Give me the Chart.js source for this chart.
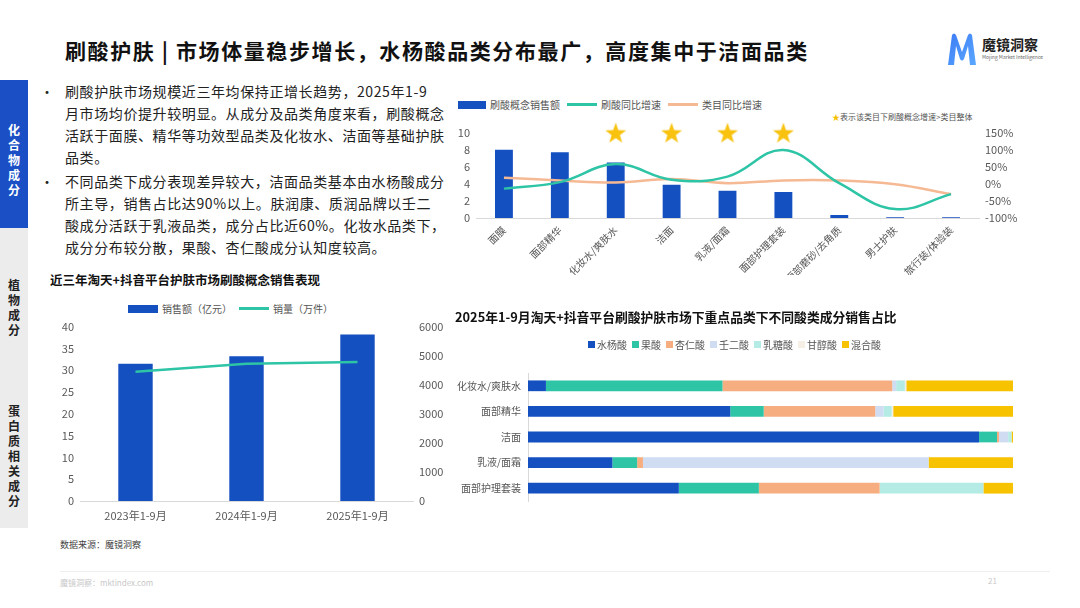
<!DOCTYPE html>
<html>
<head>
<meta charset="utf-8">
<script src="https://cdn.jsdelivr.net/npm/chart.js@4.4.1/dist/chart.umd.min.js"></script>
<style>
  body { margin: 0; width: 1080px; height: 608px; background: #fff; position: relative; overflow: hidden;
         font-family: "Noto Sans CJK SC", "Noto Sans", sans-serif; color: #222; }
  .abs { position: absolute; }
  .title { left: 65px; top: 35px; font-size: 21px; font-weight: 700; color: #111; letter-spacing: 1.6px; white-space: nowrap; }
  .side-blue { left: 0; top: 80px; width: 28px; height: 148px; background: #1a4fc6; }
  .side-gray { left: 0; top: 228px; width: 28px; height: 300px; background: #ececec; }
  .side-txt { width: 28px; text-align: center; font-size: 12px; font-weight: 700; line-height: 15px; }
  .para { left: 65px; font-size: 14px; letter-spacing: 0.6px; color: #222; white-space: nowrap; line-height: 22px; }
  .dot { left: 40px; font-size: 14px; line-height: 22px; }
  .sub { font-size: 12.5px; font-weight: 700; color: #111; white-space: nowrap; }
  .lg { font-size: 10px; color: #555; white-space: nowrap; display: flex; align-items: center; }
  .lg span.box { display: inline-block; margin-right: 4px; }
  .lg span.item { margin-right: 7px; }
  canvas { display: block; }
</style>
</head>
<body>

<div class="abs title">刷酸护肤 | 市场体量稳步增长，水杨酸品类分布最广，高度集中于洁面品类</div>

<!-- logo -->
<svg class="abs" style="left:946px;top:32px" width="32" height="34" viewBox="0 0 32 34">
  <defs>
    <linearGradient id="lg1" x1="0" y1="0" x2="1" y2="1">
      <stop offset="0" stop-color="#3d7cf5"/><stop offset="1" stop-color="#5aa8ff"/>
    </linearGradient>
  </defs>
  <path d="M2 33 L6 3 Q8 0 10 3 L16 20 L22 3 Q24 0 26 3 L30 33 L24 33 L22 14 L18 27 Q16 30 14 27 L10 14 L8 33 Z" fill="url(#lg1)"/>
</svg>
<div class="abs" style="left:982px;top:34px;font-size:14px;font-weight:700;color:#222;">魔镜洞察</div>
<div class="abs" style="left:982px;top:53px;font-size:5px;color:#666;white-space:nowrap;">Mojing Market Intelligence</div>

<!-- sidebar -->
<div class="abs side-blue"></div>
<div class="abs side-gray"></div>
<div class="abs side-txt" style="top:122px;color:#fff;">化<br>合<br>物<br>成<br>分</div>
<div class="abs side-txt" style="top:277px;color:#222;">植<br>物<br>成<br>分</div>
<div class="abs side-txt" style="top:403px;color:#222;">蛋<br>白<br>质<br>相<br>关<br>成<br>分</div>

<!-- bullets -->
<div class="abs dot" style="top:80px;">•</div>
<div class="abs para" style="top:80px;">刷酸护肤市场规模近三年均保持正增长趋势，2025年1-9<br>月市场均价提升较明显。从成分及品类角度来看，刷酸概念<br>活跃于面膜、精华等功效型品类及化妆水、洁面等基础护肤<br>品类。</div>
<div class="abs dot" style="top:170px;">•</div>
<div class="abs para" style="top:170px;">不同品类下成分表现差异较大，洁面品类基本由水杨酸成分<br>所主导，销售占比达90%以上。肤润康、质润品牌以壬二<br>酸成分活跃于乳液品类，成分占比近60%。化妆水品类下，<br>成分分布较分散，果酸、杏仁酸成分认知度较高。</div>

<!-- chart 1 legend -->
<div class="abs lg" style="left:458px;top:97px;">
  <span class="box" style="width:28px;height:8px;background:#1550c0;"></span><span class="item">刷酸概念销售额</span>
  <span class="box" style="width:30px;height:3px;background:#2ec4a6;"></span><span class="item">刷酸同比增速</span>
  <span class="box" style="width:30px;height:3px;background:#f5b994;"></span><span class="item">类目同比增速</span>
</div>
<div class="abs" style="left:832px;top:111px;font-size:8px;color:#555;white-space:nowrap;"><span style="color:#f5c000;">★</span>表示该类目下刷酸概念增速&gt;类目整体</div>
<div class="abs" style="left:440px;top:120px;width:590px;height:155px;"><canvas id="growthChart" width="590" height="155"></canvas></div>

<!-- chart 2 -->
<div class="abs sub" style="left:50px;top:270px;">近三年淘天+抖音平台护肤市场刷酸概念销售表现</div>
<div class="abs lg" style="left:128px;top:301px;">
  <span class="box" style="width:30px;height:8px;background:#1550c0;"></span><span class="item">销售额（亿元）</span>
  <span class="box" style="width:30px;height:3px;background:#2ec4a6;"></span><span class="item">销量（万件）</span>
</div>
<div class="abs" style="left:40px;top:314px;width:420px;height:214px;"><canvas id="salesChart" width="420" height="214"></canvas></div>

<!-- chart 3 -->
<div class="abs sub" style="left:455px;top:307px;font-size:12.8px;">2025年1-9月淘天+抖音平台刷酸护肤市场下重点品类下不同酸类成分销售占比</div>
<div class="abs lg" id="acidLegend" style="left:588px;top:337px;"></div>
<div class="abs" style="left:440px;top:360px;width:590px;height:154px;"><canvas id="acidChart" width="590" height="154"></canvas></div>

<!-- footer -->
<div class="abs" style="left:60px;top:538px;font-size:9px;color:#444;">数据来源：魔镜洞察</div>
<div class="abs" style="left:60px;top:571px;width:990px;height:1px;background:#eeeeee;"></div>
<div class="abs" style="left:60px;top:577px;font-size:8px;color:#c8c8c8;">魔镜洞察：mktindex.com</div>
<div class="abs" style="left:988px;top:575px;font-size:8px;color:#c8c8c8;">21</div>

<script>
// chart 1: category sales and growth
const categoryNames = ["面膜", "面部精华", "化妆水/爽肤水", "洁面", "乳液/面霜", "面部护理套装", "面部磨砂/去角质", "男士护肤", "旅行装/体验装"];
const conceptSales = [8.0, 7.7, 6.5, 3.9, 3.2, 3.05, 0.35, 0.1, 0.1];
const conceptGrowth = [-14, 5, 58, 12, 21, 99, 2, -74, -30];
const categoryGrowth = [18, 10, 4, 14, 2, 10, 10, -1, -30];
const starMarks = [null, null, 10, 10, 10, 10, null, null, null];
const growthTicks = [-100, -50, 0, 50, 100, 150];

// chart 2: three-year sales
const periodLabels = ["2023年1-9月", "2024年1-9月", "2025年1-9月"];
const salesAmount = [31.5, 33.2, 38.2];
const salesVolume = [4450, 4720, 4780];

// chart 3: acid share per key category (%)
const keyCategories = ["化妆水/爽肤水", "面部精华", "洁面", "乳液/面霜", "面部护理套装"];
const acidNames = ["水杨酸", "果酸", "杏仁酸", "壬二酸", "乳糖酸", "甘醇酸", "混合酸"];
const salicylicShare = [3.7, 41.7, 93.0, 17.4, 31.1];
const fruitShare = [36.4, 6.9, 3.7, 5.1, 16.5];
const mandelicShare = [35.0, 23.0, 0.4, 1.2, 24.9];
const azelaicShare = [0.8, 1.7, 1.9, 58.9, 0];
const lactobionicShare = [1.8, 1.7, 0.7, 0, 21.4];
const glycolicShare = [0.3, 0.3, 0, 0, 0];
const mixedShare = [22.0, 24.7, 0.3, 17.4, 6.1];

const color = {
  Blue: "#1550c0",
  Teal: "#2ec4a6",
  Peach: "#f5b994",
  Apricot: "#f6ad80",
  Periwinkle: "#cfdcf2",
  Aqua: "#b4ebe4",
  Cream: "#f6efe5",
  Gold: "#f7c200",
  Tick: "#595959",
  Axis: "#d9d9d9",
};

Chart.defaults.font.family = '"Noto Sans CJK SC", "Noto Sans", sans-serif';
Chart.defaults.animation = false;
Chart.defaults.plugins.legend.display = false;
Chart.defaults.plugins.tooltip.enabled = false;

function makeStar(size, fill) {
  const c = document.createElement("canvas");
  c.width = size;
  c.height = size;
  const g = c.getContext("2d");
  g.fillStyle = fill;
  g.beginPath();
  for (let i = 0; i < 10; i++) {
    const r = i % 2 ? size * 0.2 : size * 0.5;
    const a = -Math.PI / 2 + (i * Math.PI) / 5;
    g.lineTo(size / 2 + r * Math.cos(a), size * 0.55 + r * Math.sin(a));
  }
  g.closePath();
  g.fill();
  return c;
}

function fixWidth(w) { return (s) => { s.width = w; }; }
function fixHeight(h) { return (s) => { s.height = h; }; }
const noGrid = { display: false, drawTicks: false };

new Chart(document.getElementById("growthChart"), {
  data: {
    labels: categoryNames,
    datasets: [
      { type: "line", data: starMarks, yAxisID: "y", showLine: false, clip: false,
        pointStyle: makeStar(22, "#f8c20f"), pointRadius: 11, order: 0 },
      { type: "line", data: conceptGrowth, yAxisID: "y1", borderColor: color.Teal, borderWidth: 2.5,
        tension: 0.4, pointRadius: 0, order: 1 },
      { type: "line", data: categoryGrowth, yAxisID: "y1", borderColor: color.Peach, borderWidth: 2.5,
        tension: 0.4, pointRadius: 0, order: 2 },
      { type: "bar", data: conceptSales, yAxisID: "y", backgroundColor: color.Blue,
        categoryPercentage: 1, barPercentage: 0.32, order: 3 },
    ],
  },
  options: {
    responsive: false,
    layout: { padding: { top: 8 } },
    scales: {
      x: {
        grid: noGrid,
        border: { color: color.Axis },
        ticks: { color: "#555", font: { size: 10 }, minRotation: 45, maxRotation: 45, padding: 6, autoSkip: false },
        afterFit: fixHeight(57),
      },
      y: {
        position: "left", min: 0, max: 10,
        grid: noGrid, border: { display: false },
        ticks: { stepSize: 2, color: color.Tick, font: { size: 11 }, padding: 6, autoSkip: false },
        afterFit: fixWidth(36),
      },
      y1: {
        position: "right", min: -100, max: 150,
        grid: noGrid, border: { display: false },
        afterBuildTicks: (s) => { s.ticks = growthTicks.map((v) => ({ value: v })); },
        ticks: { color: color.Tick, font: { size: 11 }, padding: 6, autoSkip: false, callback: (v) => v + "%" },
        afterFit: fixWidth(51),
      },
    },
  },
});

new Chart(document.getElementById("salesChart"), {
  data: {
    labels: periodLabels,
    datasets: [
      { type: "line", data: salesVolume, yAxisID: "y1", borderColor: color.Teal, borderWidth: 2.5,
        pointRadius: 0, order: 1 },
      { type: "bar", data: salesAmount, yAxisID: "y", backgroundColor: color.Blue,
        categoryPercentage: 1, barPercentage: 0.31, order: 2 },
    ],
  },
  options: {
    responsive: false,
    layout: { padding: { top: 8 } },
    scales: {
      x: {
        grid: noGrid,
        border: { color: color.Axis },
        ticks: { color: color.Tick, font: { size: 11 }, padding: 8 },
        afterFit: fixHeight(27),
      },
      y: {
        position: "left", min: 0, max: 40,
        grid: noGrid, border: { display: false },
        ticks: { stepSize: 5, color: color.Tick, font: { size: 11 }, padding: 6, autoSkip: false },
        afterFit: fixWidth(40),
      },
      y1: {
        position: "right", min: 0, max: 6000,
        grid: noGrid, border: { display: false },
        ticks: { stepSize: 1000, color: color.Tick, font: { size: 11 }, padding: 6, autoSkip: false,
                 callback: (v) => String(v) },
        afterFit: fixWidth(47),
      },
    },
  },
});

const acidSeries = [salicylicShare, fruitShare, mandelicShare, azelaicShare, lactobionicShare, glycolicShare, mixedShare];
const acidColors = [color.Blue, color.Teal, color.Apricot, color.Periwinkle, color.Aqua, color.Cream, color.Gold];

function makeAcidDataset(label, data, fill) {
  return { label: label, data: data, backgroundColor: fill, categoryPercentage: 1, barPercentage: 0.42 };
}

new Chart(document.getElementById("acidChart"), {
  type: "bar",
  data: {
    labels: keyCategories,
    datasets: acidNames.map((n, i) => makeAcidDataset(n, acidSeries[i], acidColors[i])),
  },
  options: {
    responsive: false,
    indexAxis: "y",
    layout: { padding: { top: 2, bottom: 3, right: 17 } },
    scales: {
      x: { stacked: true, min: 0, max: 100, display: false },
      y: {
        stacked: true,
        grid: noGrid,
        border: { color: color.Axis },
        ticks: { color: "#555", font: { size: 10 }, padding: 7 },
        afterFit: fixWidth(88),
      },
    },
  },
});

// legend for chart 3
const legendBox = document.getElementById("acidLegend");
acidNames.forEach((n, i) => {
  legendBox.innerHTML += '<span class="box" style="width:7px;height:7px;background:' + acidColors[i] +
    ';margin-right:2px"></span><span class="item" style="margin-right:5px">' + n + "</span>";
});
</script>
</body>
</html>
